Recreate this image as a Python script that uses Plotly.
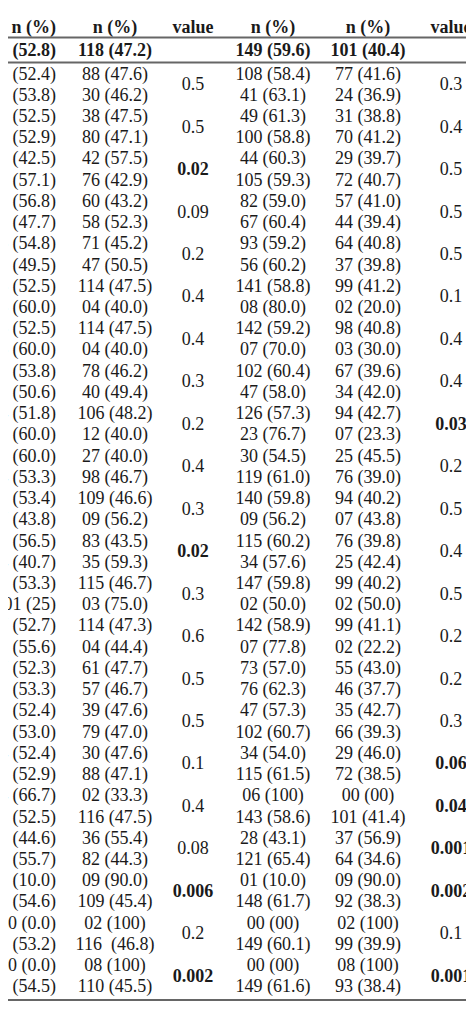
import plotly.graph_objects as go

header1 = ["AA", "AG+GG", "P", "TT", "TG+GG", "P"]
header2 = ["n (%)", "n (%)", "value", "n (%)", "n (%)", "value"]
total = ["132 (52.8)", "118 (47.2)", "", "149 (59.6)", "101 (40.4)", ""]

aa = ["97 (52.4)", "35 (53.8)", "42 (52.5)", "90 (52.9)", "31 (42.5)", "101 (57.1)",
      "79 (56.8)", "53 (47.7)", "86 (54.8)", "45 (49.5)", "126 (52.5)", "06 (60.0)",
      "126 (52.5)", "06 (60.0)", "91 (53.8)", "41 (50.6)", "114 (51.8)", "18 (60.0)",
      "18 (60.0)", "104 (53.3)", "125 (53.4)", "07 (43.8)", "108 (56.5)", "24 (40.7)",
      "131 (53.3)", "01 (25)", "127 (52.7)", "05 (55.6)", "67 (52.3)", "65 (53.3)",
      "43 (52.4)", "89 (53.0)", "34 (52.4)", "99 (52.9)", "04 (66.7)", "128 (52.5)",
      "29 (44.6)", "103 (55.7)", "01 (10.0)", "131 (54.6)", "00 (0.0)", "132 (53.2)",
      "00 (0.0)", "132 (54.5)"]
ag = ["88 (47.6)", "30 (46.2)", "38 (47.5)", "80 (47.1)", "42 (57.5)", "76 (42.9)",
      "60 (43.2)", "58 (52.3)", "71 (45.2)", "47 (50.5)", "114 (47.5)", "04 (40.0)",
      "114 (47.5)", "04 (40.0)", "78 (46.2)", "40 (49.4)", "106 (48.2)", "12 (40.0)",
      "27 (40.0)", "98 (46.7)", "109 (46.6)", "09 (56.2)", "83 (43.5)", "35 (59.3)",
      "115 (46.7)", "03 (75.0)", "114 (47.3)", "04 (44.4)", "61 (47.7)", "57 (46.7)",
      "39 (47.6)", "79 (47.0)", "30 (47.6)", "88 (47.1)", "02 (33.3)", "116 (47.5)",
      "36 (55.4)", "82 (44.3)", "09 (90.0)", "109 (45.4)", "02 (100)", "116  (46.8)",
      "08 (100)", "110 (45.5)"]
tt = ["108 (58.4)", "41 (63.1)", "49 (61.3)", "100 (58.8)", "44 (60.3)", "105 (59.3)",
      "82 (59.0)", "67 (60.4)", "93 (59.2)", "56 (60.2)", "141 (58.8)", "08 (80.0)",
      "142 (59.2)", "07 (70.0)", "102 (60.4)", "47 (58.0)", "126 (57.3)", "23 (76.7)",
      "30 (54.5)", "119 (61.0)", "140 (59.8)", "09 (56.2)", "115 (60.2)", "34 (57.6)",
      "147 (59.8)", "02 (50.0)", "142 (58.9)", "07 (77.8)", "73 (57.0)", "76 (62.3)",
      "47 (57.3)", "102 (60.7)", "34 (54.0)", "115 (61.5)", "06 (100)", "143 (58.6)",
      "28 (43.1)", "121 (65.4)", "01 (10.0)", "148 (61.7)", "00 (00)", "149 (60.1)",
      "00 (00)", "149 (61.6)"]
tg = ["77 (41.6)", "24 (36.9)", "31 (38.8)", "70 (41.2)", "29 (39.7)", "72 (40.7)",
      "57 (41.0)", "44 (39.4)", "64 (40.8)", "37 (39.8)", "99 (41.2)", "02 (20.0)",
      "98 (40.8)", "03 (30.0)", "67 (39.6)", "34 (42.0)", "94 (42.7)", "07 (23.3)",
      "25 (45.5)", "76 (39.0)", "94 (40.2)", "07 (43.8)", "76 (39.8)", "25 (42.4)",
      "99 (40.2)", "02 (50.0)", "99 (41.1)", "02 (22.2)", "55 (43.0)", "46 (37.7)",
      "35 (42.7)", "66 (39.3)", "29 (46.0)", "72 (38.5)", "00 (00)", "101 (41.4)",
      "37 (56.9)", "64 (34.6)", "09 (90.0)", "92 (38.3)", "02 (100)", "99 (39.9)",
      "08 (100)", "93 (38.4)"]
p1 = ["0.5", "0.5", "0.02", "0.09", "0.2", "0.4", "0.4", "0.3", "0.2", "0.4", "0.3",
      "0.02", "0.3", "0.6", "0.5", "0.5", "0.1", "0.4", "0.08", "0.006", "0.2", "0.002"]
p1_bold = [0, 0, 1, 0, 0, 0, 0, 0, 0, 0, 0, 1, 0, 0, 0, 0, 0, 0, 0, 1, 0, 1]
p2 = ["0.3", "0.4", "0.5", "0.5", "0.5", "0.1", "0.4", "0.4", "0.03", "0.2", "0.5",
      "0.4", "0.5", "0.2", "0.2", "0.3", "0.06", "0.04", "0.001", "0.002", "0.1", "0.001"]
p2_bold = [0, 0, 0, 0, 0, 0, 0, 0, 1, 0, 0, 0, 0, 0, 0, 0, 1, 1, 1, 1, 0, 1]
footnote = "ined virological response, ETR: End of treatment response, F: Female, M"

# page offset of the plot in the browser (body margin)
OFF = 8
col_x = [56, 115, 193, 273, 368, 451]
Y0, PITCH = 75, 21.23
row_y = [Y0 + i * PITCH for i in range(len(aa))]
pair_y = [Y0 + (2 * i + 0.5) * PITCH for i in range(len(p1))]

FONT = dict(family="Liberation Serif", size=18, color="#1a1a1a")
fig = go.Figure()

def add(xs, ys, texts, pos="middle center"):
    fig.add_trace(go.Scatter(x=xs, y=ys, text=texts, mode="text", textposition=pos,
                             textfont=FONT, cliponaxis=False, hoverinfo="skip"))

def b(t):
    return f"<b>{t}</b>" if t else t

for j in range(6):
    pos = "middle left" if j == 0 else "middle center"
    add([col_x[j]] * 3, [6, 28, 51], [b(header1[j]), b(header2[j]), b(total[j])], pos)

add([col_x[0]] * len(aa), row_y, aa, "middle left")
add([col_x[1]] * len(ag), row_y, ag)
add([col_x[3]] * len(tt), row_y, tt)
add([col_x[4]] * len(tg), row_y, tg)
add([col_x[2]] * len(p1), pair_y, [b(t) if f else t for t, f in zip(p1, p1_bold)])
add([col_x[5]] * len(p2), pair_y, [b(t) if f else t for t, f in zip(p2, p2_bold)])
add([OFF - 2], [1010], [footnote], "middle right")

for yl in [37.5, 62.5, 1000]:
    fig.add_shape(type="line", xref="paper", x0=0, x1=1, y0=yl, y1=yl,
                  line=dict(color="#666666", width=2))

fig.update_xaxes(range=[OFF, 474 + OFF], visible=False, fixedrange=True)
fig.update_yaxes(range=[1018 + OFF, OFF], visible=False, fixedrange=True)
fig.update_layout(width=474, height=1018, margin=dict(l=0, r=0, t=0, b=0),
                  showlegend=False, plot_bgcolor="white", paper_bgcolor="white")
fig.write_html("out.html", config={"displayModeBar": False})
